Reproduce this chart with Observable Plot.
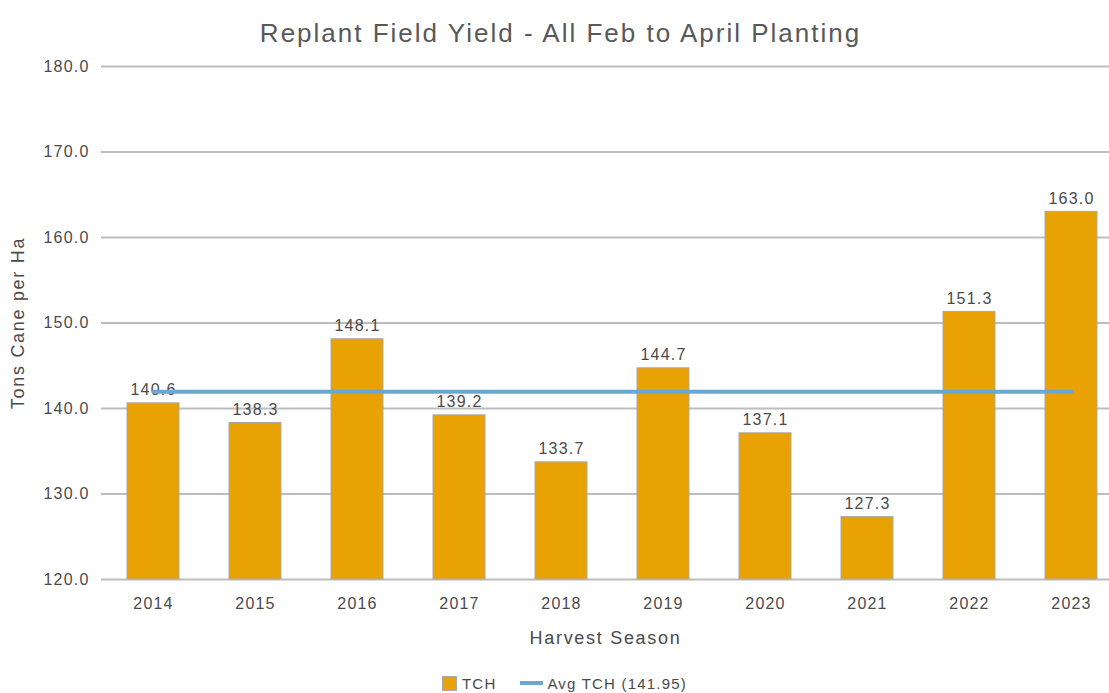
<!DOCTYPE html>
<html>
<head>
<meta charset="utf-8">
<script src="https://cdn.jsdelivr.net/npm/d3@7"></script>
<script src="https://cdn.jsdelivr.net/npm/@observablehq/plot@0.6"></script>
<style>
  body { margin: 0; background: #fff; font-family: "Liberation Sans", Arial, sans-serif; }
  #title { height: 50px; line-height: 66px; text-align: center; font-size: 26px; letter-spacing: 2px; color: #595959; padding-left: 12px; box-sizing: border-box; width: 1109px; white-space: nowrap; }
  #legend { width: 1109px; height: 46px; display: flex; justify-content: center; align-items: center; font-size: 15px; letter-spacing: 1.2px; color: #4a4a4a; padding-left: 20px; box-sizing: border-box; }
  .sw { display: inline-block; }
  #chart svg text { letter-spacing: 1.2px; }
  #chart svg [aria-label="y-axis label"], #chart svg [aria-label="x-axis label"] { font-size: 18px; }
  #chart svg [aria-label="y-axis label"] text, #chart svg [aria-label="x-axis label"] text { letter-spacing: 1.7px; }
</style>
</head>
<body>
<div id="title">Replant Field Yield - All Feb to April Planting</div>
<div id="chart"></div>
<div id="legend">
  <span class="sw" style="width:13px;height:13px;background:#E9A204;border:1px solid #aaa;margin-right:5px;"></span><span>TCH</span>
  <span class="sw" style="width:23px;height:4px;background:#6AA8D4;margin-left:24px;margin-right:4px;"></span><span>Avg TCH (141.95)</span>
</div>
<script>
const years = ["2014","2015","2016","2017","2018","2019","2020","2021","2022","2023"];
const tch = [140.6, 138.3, 148.1, 139.2, 133.7, 144.7, 137.1, 127.3, 151.3, 163.0];
const avgTch = 141.95;
const yTicks = [120, 130, 140, 150, 160, 170, 180];

const data = years.map((y, i) => ({year: y, value: tch[i]}));
const avgData = years.map(y => ({year: y, value: avgTch}));

const chart = Plot.plot({
  width: 1109,
  height: 610,
  marginTop: 16,
  marginBottom: 81,
  marginLeft: 101,
  marginRight: 0,
  style: { fontFamily: "Liberation Sans, Arial, sans-serif", fontSize: "16px", color: "#4a4a4a", background: "#fff", overflow: "visible" },
  x: { domain: years, range: [101.5, 1122], paddingInner: 0.49, paddingOuter: 0.245, label: null },
  y: { domain: [120, 180], label: null },
  marks: [
    Plot.ruleY(yTicks, { stroke: "#bdbdbd", strokeWidth: 2 }),
    Plot.axisY({ ticks: yTicks, tickFormat: d3.format(".1f"), tickSize: 0, tickPadding: 12, label: "Tons Cane per Ha", labelAnchor: "center", labelArrow: "none", labelOffset: 90, fontSize: 16 }),
    Plot.axisX({ tickSize: 0, tickPadding: 18, label: "Harvest Season", labelAnchor: "center", labelArrow: "none", labelOffset: 64, fontSize: 16 }),
    Plot.barY(data, { x: "year", y1: 120, y2: "value", fill: "#E9A204", stroke: "#a8a8a8", strokeWidth: 1 }),
    Plot.text(data, { x: "year", y: "value", text: d => d.value.toFixed(1), dy: -13, fill: "#4a4a4a", fontSize: 16 }),
    Plot.line(avgData, { x: "year", y: "value", stroke: "#6AA8D4", strokeWidth: 4 })
  ]
});
document.getElementById("chart").appendChild(chart);
</script>
</body>
</html>
